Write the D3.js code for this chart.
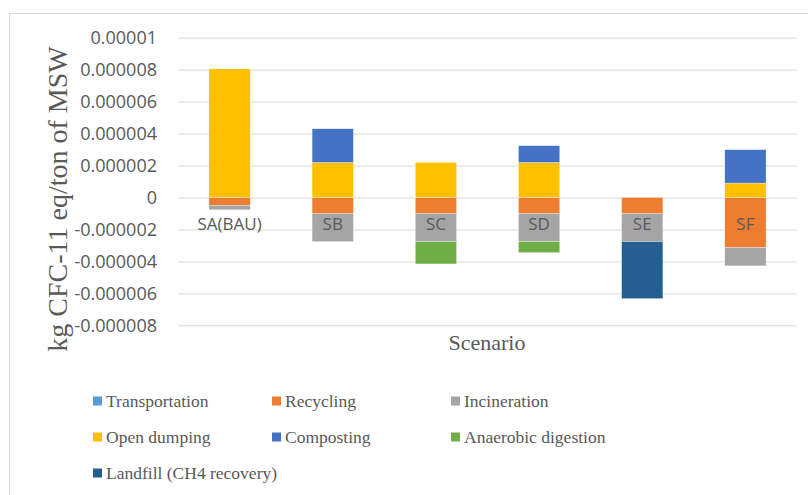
<!DOCTYPE html>
<html>
<head>
<meta charset="utf-8">
<script src="https://cdn.jsdelivr.net/npm/d3@7"></script>
<style>
  html, body { margin: 0; padding: 0; background: #ffffff; }
  svg { display: block; }
</style>
</head>
<body>
<svg id="chart" width="808" height="495"></svg>
<script>
// Ozone depletion potential per scenario, split by waste-management process
const scenarios = ["SA(BAU)", "SB", "SC", "SD", "SE", "SF"];
const processes = ["Transportation", "Recycling", "Incineration", "Open dumping",
                   "Composting", "Anaerobic digestion", "Landfill (CH4 recovery)"];
const colors = ["#5B9BD5", "#ED7D31", "#A5A5A5", "#FFC000", "#4472C4", "#70AD47", "#255E91"];

// kg CFC-11 eq / ton of MSW, one array per process (scenario order as above)
const transportation = [0, 0, 0, 0, 0, 0];
const recycling      = [-0.50e-6, -1.02e-6, -1.02e-6, -1.02e-6, -1.02e-6, -3.13e-6];
const incineration   = [-0.27e-6, -1.74e-6, -1.74e-6, -1.74e-6, -1.74e-6, -1.15e-6];
const openDumping    = [8.05e-6, 2.19e-6, 2.19e-6, 2.19e-6, 0, 0.90e-6];
const composting     = [0, 2.11e-6, 0, 1.05e-6, 0, 2.09e-6];
const anaerobic      = [0, 0, -1.40e-6, -0.69e-6, 0, 0];
const landfill       = [0, 0, 0, 0, -3.57e-6, 0];

const tickValues = [1e-5, 8e-6, 6e-6, 4e-6, 2e-6, 0, -2e-6, -4e-6, -6e-6, -8e-6];
const tickLabels = ["0.00001", "0.000008", "0.000006", "0.000004", "0.000002", "0",
                    "-0.000002", "-0.000004", "-0.000006", "-0.000008"];

const seriesValues = [transportation, recycling, incineration, openDumping,
                      composting, anaerobic, landfill];
const rows = scenarios.map((s, i) => {
  const r = { scenario: s };
  processes.forEach((p, k) => { r[p] = seriesValues[k][i]; });
  return r;
});

const svg = d3.select("#chart");
const W = 808, H = 495;
const plot = { left: 178, right: 797, top: 37.7, bottom: 325.3 };
const grey = "#595959";
const sans = "'Open Sans', 'Noto Sans', sans-serif";
const serif = "'Liberation Serif', 'Times New Roman', serif";

// chart frame
svg.append("path")
  .attr("d", `M9.5,${H} V13.5 H${W}`)
  .attr("fill", "none").attr("stroke", "#d9d9d9").attr("stroke-width", 1);

const x = d3.scaleBand().domain(scenarios).range([plot.left, plot.right]).paddingInner(0.6).paddingOuter(0.3);
const y = d3.scaleLinear().domain([-8e-6, 1e-5]).range([plot.bottom, plot.top]);

// gridlines
const grid = svg.append("g").attr("transform", `translate(${plot.left},0)`)
  .call(d3.axisLeft(y).tickValues(tickValues).tickSize(-(plot.right - plot.left)).tickFormat(""));
grid.select(".domain").remove();
grid.selectAll("line").attr("stroke", "#d9d9d9").attr("stroke-width", 1);

// stacked bars
const stack = d3.stack().keys(processes).offset(d3.stackOffsetDiverging);
const layers = stack(rows);
svg.append("g").selectAll("g").data(layers).join("g")
  .attr("fill", (d, i) => colors[i])
  .selectAll("rect").data(d => d.filter(s => s[1] - s[0] !== 0)).join("rect")
  .attr("x", d => x(d.data.scenario))
  .attr("width", x.bandwidth())
  .attr("y", d => y(Math.max(d[0], d[1])))
  .attr("height", d => Math.abs(y(d[0]) - y(d[1])))
  .attr("stroke", "#ffffff").attr("stroke-width", 0.5).attr("stroke-opacity", 0.6);

// y axis labels
const yAxis = svg.append("g").attr("transform", `translate(${157},0)`)
  .call(d3.axisLeft(y).tickValues(tickValues).tickSize(0).tickPadding(0)
    .tickFormat((d, i) => tickLabels[i]));
yAxis.select(".domain").remove();
yAxis.selectAll("text").attr("fill", grey).style("font-family", sans).style("font-size", "18px");

// category labels sit just under the zero line
const xAxis = svg.append("g").attr("transform", `translate(0,${y(0)})`)
  .call(d3.axisBottom(x).tickSize(0).tickPadding(20));
xAxis.select(".domain").remove();
xAxis.selectAll("text").attr("fill", grey).style("font-family", sans).style("font-size", "17px");

// axis titles
svg.append("text")
  .attr("transform", `translate(67,199) rotate(-90)`)
  .attr("text-anchor", "middle")
  .attr("fill", grey).style("font-family", serif).style("font-size", "28px")
  .text("kg CFC-11 eq/ton of MSW");

svg.append("text")
  .attr("x", 487).attr("y", 350)
  .attr("text-anchor", "middle")
  .attr("fill", grey).style("font-family", serif).style("font-size", "22px")
  .text("Scenario");

// legend, three per row
const legendCols = [93, 272, 451];
const legendRows = [401, 437, 473];
const legend = svg.append("g").selectAll("g").data(processes).join("g")
  .attr("transform", (d, i) => `translate(${legendCols[i % 3]},${legendRows[Math.floor(i / 3)]})`);
legend.append("rect")
  .attr("x", 0).attr("y", -4.5).attr("width", 9).attr("height", 9)
  .attr("fill", (d, i) => colors[i]);
legend.append("text")
  .attr("x", 13).attr("y", 0).attr("dy", "0.35em")
  .attr("fill", grey).style("font-family", serif).style("font-size", "17.5px")
  .text(d => d);
</script>
</body>
</html>
